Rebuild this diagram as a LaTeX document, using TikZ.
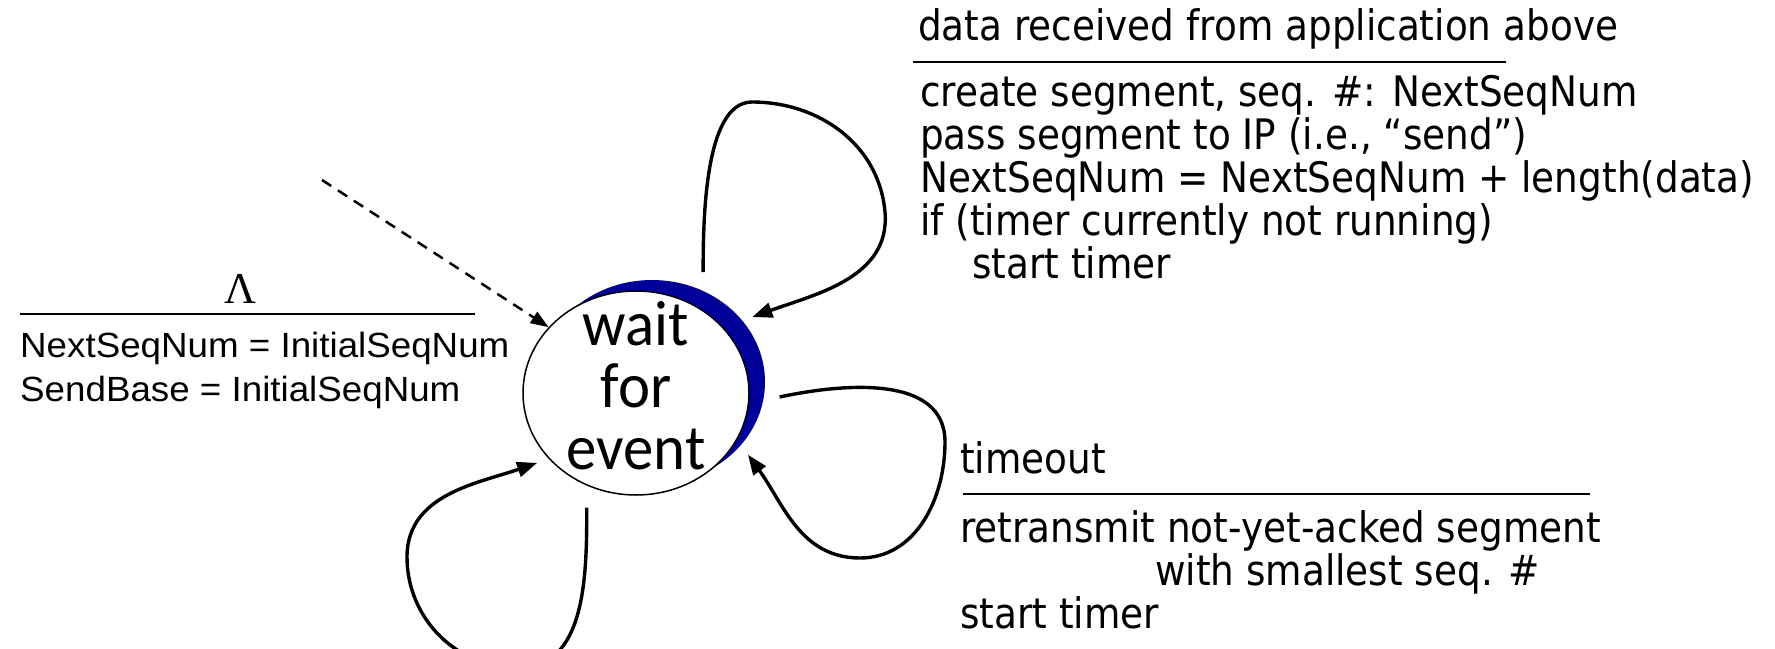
\documentclass[tikz,border=0pt]{standalone}
\usepackage{fontspec}
\setmainfont{Liberation Sans}
\newfontfamily\actfont[FakeStretch=0.89]{DejaVu Sans}
\newfontfamily\statefont[FakeStretch=0.95]{Carlito}
\newfontfamily\initfont[FakeStretch=1.05]{Liberation Sans}
\newfontfamily\lamfont{Liberation Serif}
\usetikzlibrary{arrows.meta,shapes.geometric,shadows}
\definecolor{ovalblue}{RGB}{0,0,153}

\begin{document}
\begin{tikzpicture}[
  x=1pt,y=1pt,
  state/.style={ellipse,draw,line width=1.5pt,fill=white,
                minimum width=226pt,minimum height=204pt,inner sep=0pt,inner ysep=-10pt,
                align=center,font=\statefont\fontsize{64}{62}\selectfont,
                text height=152pt,text depth=0pt,
                general shadow={fill=ovalblue,shadow xshift=16pt,shadow yshift=11pt}},
  act/.style={inner sep=0pt,anchor=base west,align=left,
              font=\actfont\fontsize{42}{43}\selectfont},
  initlbl/.style={inner sep=0pt,anchor=base west,align=left,
                  font=\initfont\fontsize{35}{44}\selectfont},
  rule/.style={line width=2pt},
  trans/.style={line width=3.4pt,-{Triangle[length=20pt,width=15pt]}},
  initarr/.style={line width=2.5pt,dash pattern=on 11pt off 8pt,
                  -{Triangle[length=18pt,width=13pt]}}]
\useasboundingbox (0,0) rectangle (1775,-648);
\clip (0,0) rectangle (1775,-648);

\node[state] (wait) at (636,-393) {wait\\for\\event};

% initial transition
\coordinate (init) at (322,-180);
\draw[initarr] (init) -- (wait.143);
\node[inner sep=0pt,anchor=base,font=\lamfont\fontsize{44}{44}\selectfont] (lam) at (240,-303) {Λ};
\draw[rule] (20,-314) -- (475,-314);
\node[initlbl] (initact) at (20,-401) {NextSeqNum = InitialSeqNum\\SendBase = InitialSeqNum};

% data from above
\node[act] (dataevt) at (918,-40) {data received from application above};
\draw[rule] (913,-62) -- (1506,-62);
\node[act] (dataact) at (920,-278) {create segment, seq. \#: NextSeqNum\\
  pass segment to IP (i.e., “send”)\\
  NextSeqNum = NextSeqNum + length(data)\\
  if (timer currently not running)\\
  \hspace*{52pt}start timer};
\draw[trans] ([yshift=38pt]wait.51) to[out=90,in=180,looseness=0.7] (752,-102)
  to[out=0,in=95] (885,-212) to[out=-85,in=20] ([shift={(24pt,16pt)}]wait.33);

% timeout
\node[act] (toevt) at (960,-473) {timeout};
\draw[rule] (963,-494) -- (1590,-494);
\node[act] (toact) at (960,-628) {retransmit not-yet-acked segment\\
  \hspace*{195pt}with smallest seq. \#\\
  start timer};
\draw[trans] ([xshift=30pt]wait.-2) to[out=12,in=90] (945,-442)
  to[out=-90,in=0] (860,-558) to[out=180,in=-54] ([shift={(15pt,-8pt)}]wait.-29);

% third event (label not shown)
\draw[trans] ([yshift=-22pt]wait.242) to[out=-90,in=0] (518,-668)
  to[out=180,in=-90] (407,-557) to[out=90,in=-161] ([shift={(-9pt,-7pt)}]wait.215);
\end{tikzpicture}
\end{document}
